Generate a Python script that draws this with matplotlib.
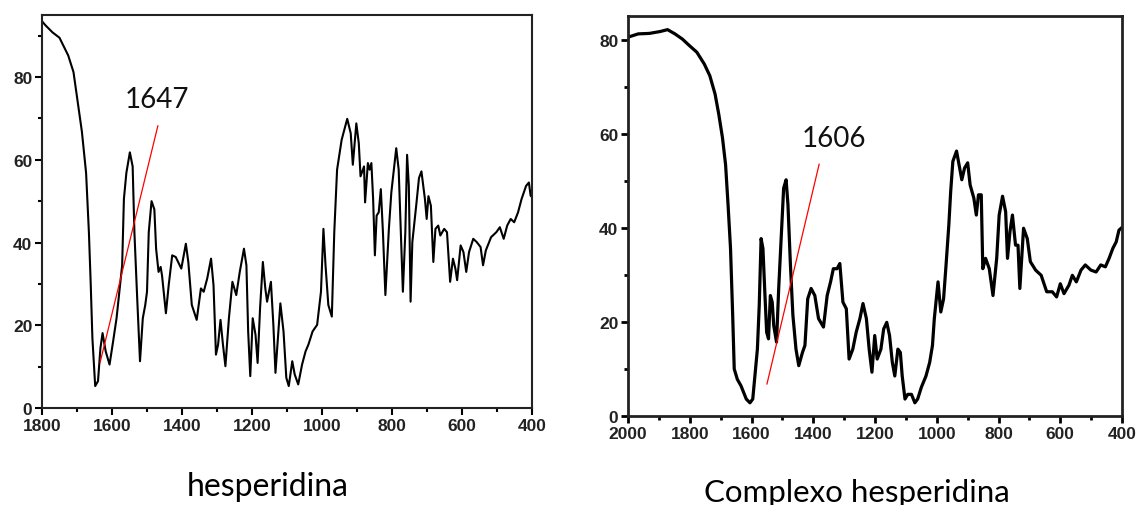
import matplotlib.pyplot as plt
from matplotlib.ticker import MultipleLocator

# hesperidina spectrum (wavenumber, transmittance)
wn_hesp = [1800, 1790, 1770, 1750, 1725, 1710, 1700, 1686, 1674, 1666, 1661, 1656, 1648, 1640,
           1633, 1627, 1618, 1607, 1597, 1587, 1580, 1571, 1566, 1559, 1549, 1541, 1536, 1528,
           1520, 1512, 1505, 1500, 1495, 1487, 1479, 1474, 1467, 1461, 1457, 1446, 1438, 1428,
           1418, 1402, 1389, 1382, 1372, 1358, 1346, 1338, 1328, 1317, 1310, 1303, 1297, 1290,
           1283, 1276, 1266, 1256, 1245, 1235, 1223, 1216, 1211, 1205, 1198, 1190, 1184, 1177,
           1169, 1162, 1157, 1146, 1139, 1133, 1126, 1119, 1110, 1102, 1095, 1085, 1078, 1068,
           1057, 1047, 1039, 1027, 1014, 1003, 996, 990, 982, 972, 965, 957, 944, 928, 918, 912,
           902, 895, 890, 880, 877, 869, 864, 859, 854, 849, 844, 838, 832, 826, 819, 809, 802,
           788, 781, 775, 769, 762, 757, 752, 747, 742, 731, 723, 716, 706, 701, 696, 689, 682,
           676, 668, 662, 651, 643, 634, 626, 619, 614, 604, 596, 588, 580, 568, 558, 547, 540,
           532, 517, 502, 492, 481, 471, 461, 451, 440, 430, 417, 409, 404, 400]
t_hesp = [93.5, 92.5, 90.8, 89.5, 85.2, 81.2, 75.2, 66.8, 56.8, 42.5, 30.5, 16.9, 5.3, 6.5,
          14.5, 18.1, 13.7, 10.5, 16.0, 21.7, 27.3, 34.5, 50.5, 56.8, 61.8, 58.4, 42.5, 26.5,
          11.3, 21.7, 24.9, 28.1, 42.5, 50.0, 48.0, 38.5, 32.9, 34.1, 32.0, 22.9, 29.7, 36.9,
          36.5, 33.7, 39.7, 35.3, 24.9, 21.3, 28.9, 28.1, 31.3, 36.1, 29.7, 12.9, 15.3, 21.3,
          15.3, 10.1, 21.7, 30.5, 27.3, 32.9, 38.5, 34.5, 18.5, 7.7, 21.7, 17.7, 10.9, 24.1,
          35.3, 28.9, 25.7, 30.5, 20.1, 8.5, 16.9, 25.3, 18.5, 7.3, 5.3, 11.3, 8.1, 5.7,
          10.5, 13.7, 15.3, 18.5, 20.1, 28.1, 43.3, 34.5, 24.9, 22.1, 42.5, 57.6, 64.8, 69.9, 66.4, 58.8,
          68.8, 64.0, 56.0, 58.4, 49.7, 59.2, 57.6, 59.2, 50.5, 36.9, 46.5, 47.3, 52.9, 42.5, 27.3, 43.3, 52.1,
          62.8, 57.6, 42.5, 28.1, 42.5, 61.2, 53.7, 25.7, 40.1, 48.9, 55.6, 57.2, 50.5, 45.7, 51.2, 48.9, 35.3,
          43.3, 44.1, 41.7, 43.3, 42.5, 30.5, 36.1, 33.7, 30.9, 39.3, 37.7, 32.9, 37.7, 40.9, 40.1, 38.9, 34.5,
          38.1, 41.3, 42.5, 43.7, 40.9, 44.1, 45.7, 44.9, 47.3, 50.5, 53.7, 54.5, 51.3, 51.0]

# Complexo hesperidina spectrum
wn_comp = [2000, 1967, 1931, 1896, 1872, 1848, 1824, 1801, 1777, 1753, 1735, 1718, 1706, 1694,
           1684, 1676, 1668, 1661, 1656, 1646, 1634, 1617, 1605, 1596, 1589, 1581, 1575, 1569,
           1563, 1557, 1551, 1545, 1539, 1533, 1528, 1519, 1512, 1504, 1496, 1488, 1482, 1474,
           1466, 1456, 1447, 1435, 1427, 1418, 1407, 1395, 1383, 1367, 1355, 1344, 1335, 1323,
           1314, 1304, 1293, 1284, 1272, 1261, 1249, 1239, 1228, 1219, 1210, 1201, 1193, 1181,
           1172, 1162, 1153, 1144, 1136, 1126, 1118, 1112, 1103, 1094, 1082, 1071, 1062, 1050,
           1035, 1023, 1014, 1008, 996, 987, 978, 970, 961, 955, 948, 936, 928, 919, 910, 900,
           892, 880, 872, 865, 856, 851, 842, 830, 818, 806, 798, 787, 777, 771, 763, 755, 745,
           737, 731, 719, 707, 697, 680, 662, 644, 626, 612, 600, 588, 572, 561, 548, 533, 519,
           501, 484, 469, 454, 442, 430, 419, 410, 403]
t_comp = [80.5, 81.2, 81.3, 81.7, 82.1, 81.2, 80.1, 78.7, 77.3, 74.8, 72.3, 68.4, 64.1, 59.1,
          53.4, 44.9, 35.6, 21.4, 10.0, 7.8, 6.4, 3.6, 2.8, 3.6, 8.5, 14.2, 23.5, 37.7,
          35.6, 26.4, 17.8, 16.4, 25.6, 24.2, 19.2, 15.7, 27.1, 37.7, 48.4, 50.2, 44.9, 32.1,
          21.4, 14.2, 10.7, 13.5, 15.0, 24.9, 27.1, 25.6, 20.7, 18.9, 25.6, 28.5, 31.3, 31.3,
          32.4, 24.2, 22.8, 12.1, 14.2, 17.8, 20.7, 23.9, 20.7, 14.2, 9.3, 17.1, 12.1, 14.2,
          18.5, 19.9, 17.1, 11.4, 8.5, 14.2, 13.5, 8.5, 3.6, 4.6, 4.6, 2.8, 3.6, 6.1,
          8.5, 11.4, 15.0, 20.7, 28.5, 22.1, 24.9, 32.1, 40.6, 47.7, 54.1, 56.3, 53.4, 50.2, 52.7, 53.8,
          49.1, 46.3, 42.7, 47.0, 47.0, 31.3, 33.5, 31.3, 25.6, 33.5, 42.7, 46.7, 43.4, 33.5, 39.2, 42.7, 36.3,
          36.3, 27.1, 39.9, 37.7, 32.8, 31.0, 29.9, 26.4, 26.4, 25.3, 28.1, 26.0, 27.8, 29.9, 28.5, 31.0, 32.1,
          31.0, 30.6, 32.1, 31.7, 33.5, 35.6, 37.0, 39.5, 39.9]

peak_hesp = '1647'
peak_comp = '1606'

fig = plt.figure(figsize=(11.41, 5.06), dpi=100)

ax1 = fig.add_axes([0.0368, 0.1917, 0.4295, 0.7767])
ax1.plot(wn_hesp, t_hesp, color='black', lw=1.5)
ax1.set_xlim(1800, 400)
ax1.set_ylim(0, 95)
ax1.plot([1634, 1469], [11.0, 68.2], color='red', lw=0.9)
ax1.text(1471, 74.7, peak_hesp, fontsize=20, family='Lato', ha='center', va='center', color='#111111')

ax2 = fig.add_axes([0.5504, 0.1759, 0.433, 0.7905])
ax2.plot(wn_comp, t_comp, color='black', lw=2.3)
ax2.set_xlim(2000, 400)
ax2.set_ylim(0, 85)
ax2.plot([1550, 1381], [6.8, 53.5], color='red', lw=0.9)
ax2.text(1333, 59.1, peak_comp, fontsize=20, family='Lato', ha='center', va='center', color='#111111')

for ax, lw in ((ax1, 1.5), (ax2, 2.0)):
    ax.xaxis.set_major_locator(MultipleLocator(200))
    ax.xaxis.set_minor_locator(MultipleLocator(100))
    ax.yaxis.set_major_locator(MultipleLocator(20))
    ax.yaxis.set_minor_locator(MultipleLocator(10))
    ax.tick_params(which='major', direction='out', length=5, width=lw, pad=2)
    ax.tick_params(which='minor', direction='out', length=3, width=lw)
    for s in ax.spines.values():
        s.set_linewidth(lw)
        s.set_color('#222222')
    for lab in ax.get_xticklabels() + ax.get_yticklabels():
        lab.set_family('Liberation Sans')
        lab.set_fontweight('bold')
        lab.set_fontsize(12.5)
        lab.set_color('#222222')

fig.text(268 / 1141, 1 - 487 / 506, 'hesperidina', fontsize=23, family='Lato', ha='center', va='center')
fig.text(857 / 1141, 1 - 493 / 506, 'Complexo hesperidina', fontsize=22.5, family='Lato', ha='center', va='center')

fig.savefig('out.png', dpi=100)
